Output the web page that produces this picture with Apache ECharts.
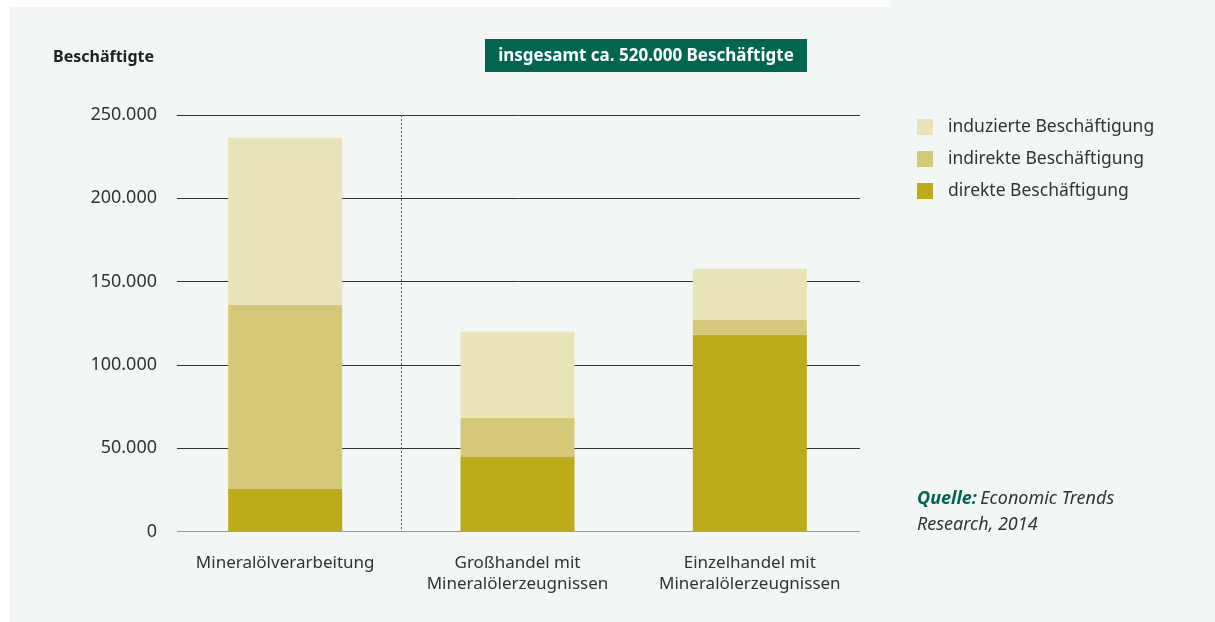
<!DOCTYPE html>
<html>
<head>
<meta charset="utf-8">
<script src="https://cdn.jsdelivr.net/npm/echarts@6/dist/echarts.min.js"></script>
<style>
  html, body { margin: 0; padding: 0; background: #fff; }
  #chart { width: 1215px; height: 622px; }
</style>
</head>
<body>
<div id="chart"></div>
<script>
// Daten
const categories = ['Mineralölverarbeitung', 'Großhandel mit\nMineralölerzeugnissen', 'Einzelhandel mit\nMineralölerzeugnissen']
const direkt = [25800, 44800, 118100]
const indirekt = [110300, 23500, 9000]
const induziert = [100300, 51600, 30600]
const yTickLabels = ['0', '50.000', '100.000', '150.000', '200.000', '250.000']

const seriesNames = ['direkte Beschäftigung', 'indirekte Beschäftigung', 'induzierte Beschäftigung']
const colors = ['#bdab19', '#d6c879', '#e9e3b8']

const font = '"Noto Sans", sans-serif'
const none = 'rgba(0,0,0,0)'
const chart = echarts.init(document.getElementById('chart'))

const barSeries = [direkt, indirekt, induziert].map((data, i) => ({
    name: seriesNames[i],
    type: 'bar',
    stack: 'total',
    xAxisIndex: 0,
    yAxisIndex: 0,
    barWidth: 114,
    data: data,
    itemStyle: { color: colors[i] },
    emphasis: { disabled: true }
}))

const option = {
    backgroundColor: '#f2f6f4',
    animation: false,
    textStyle: { fontFamily: font },
    grid: [
        // Balken
        { left: 169, width: 697, top: 115, height: 416.6 },
        // Gitterlinien
        { left: 177, width: 683, top: 115, height: 416.6 }
    ],
    xAxis: [
        {
            type: 'category',
            gridIndex: 0,
            data: categories,
            axisLine: { show: false },
            axisTick: { show: false },
            axisLabel: {
                interval: 0,
                hideOverlap: false,
                color: '#333',
                fontSize: 17,
                lineHeight: 21,
                margin: 21,
                fontFamily: font
            },
            // nur die Trennlinie nach der ersten Kategorie
            splitLine: {
                show: true,
                interval: 0,
                lineStyle: { color: [none, '#555', none, none], type: [2, 2], width: 1 }
            }
        },
        { type: 'category', gridIndex: 1, data: categories, show: false }
    ],
    yAxis: [
        { type: 'value', gridIndex: 0, min: 0, max: 250000, interval: 50000, show: false },
        {
            type: 'value',
            gridIndex: 1,
            min: 0,
            max: 250000,
            interval: 50000,
            axisLine: { show: false },
            axisTick: { show: false },
            axisLabel: {
                color: '#333',
                fontSize: 18,
                margin: 20,
                fontFamily: font,
                formatter: (v) => yTickLabels[Math.round(v / 50000)]
            },
            splitLine: {
                lineStyle: { color: ['#999', '#333', '#333', '#333', '#333', '#333'], width: 1 }
            }
        }
    ],
    legend: {
        orient: 'vertical',
        left: 917,
        top: 118,
        padding: 0,
        itemWidth: 16,
        itemHeight: 16,
        itemGap: 14,
        icon: 'rect',
        data: ['induzierte Beschäftigung', 'indirekte Beschäftigung', 'direkte Beschäftigung'],
        textStyle: { color: '#333', fontSize: 17.5, fontFamily: font, padding: [0, 0, 0, 10] },
        selectedMode: false
    },
    graphic: [
        { type: 'rect', shape: { x: 0, y: 0, width: 890, height: 7 }, style: { fill: '#fff' }, silent: true },
        { type: 'rect', shape: { x: 0, y: 0, width: 10, height: 622 }, style: { fill: '#fff' }, silent: true },
        {
            type: 'text', left: 53, top: 49,
            style: { text: 'Beschäftigte', font: 'bold 16px "Noto Sans", sans-serif', fill: '#222' }
        },
        { type: 'rect', shape: { x: 485, y: 39, width: 322, height: 33 }, style: { fill: '#00664f' }, silent: true },
        {
            type: 'text', x: 646, y: 56,
            style: {
                text: 'insgesamt ca. 520.000 Beschäftigte',
                font: 'bold 17px "Noto Sans", sans-serif',
                fill: '#fff', align: 'center', verticalAlign: 'middle'
            }
        },
        {
            type: 'text', left: 917, top: 490,
            style: {
                text: '{q|Quelle:} {n|Economic Trends}\n{n|Research, 2014}',
                rich: {
                    q: { font: 'italic bold 18px "Noto Sans", sans-serif', fill: '#00664f', lineHeight: 26 },
                    n: { font: 'italic 18px "Noto Sans", sans-serif', fill: '#333', lineHeight: 26 }
                }
            }
        }
    ],
    series: barSeries
}

chart.setOption(option)
</script>
</body>
</html>
